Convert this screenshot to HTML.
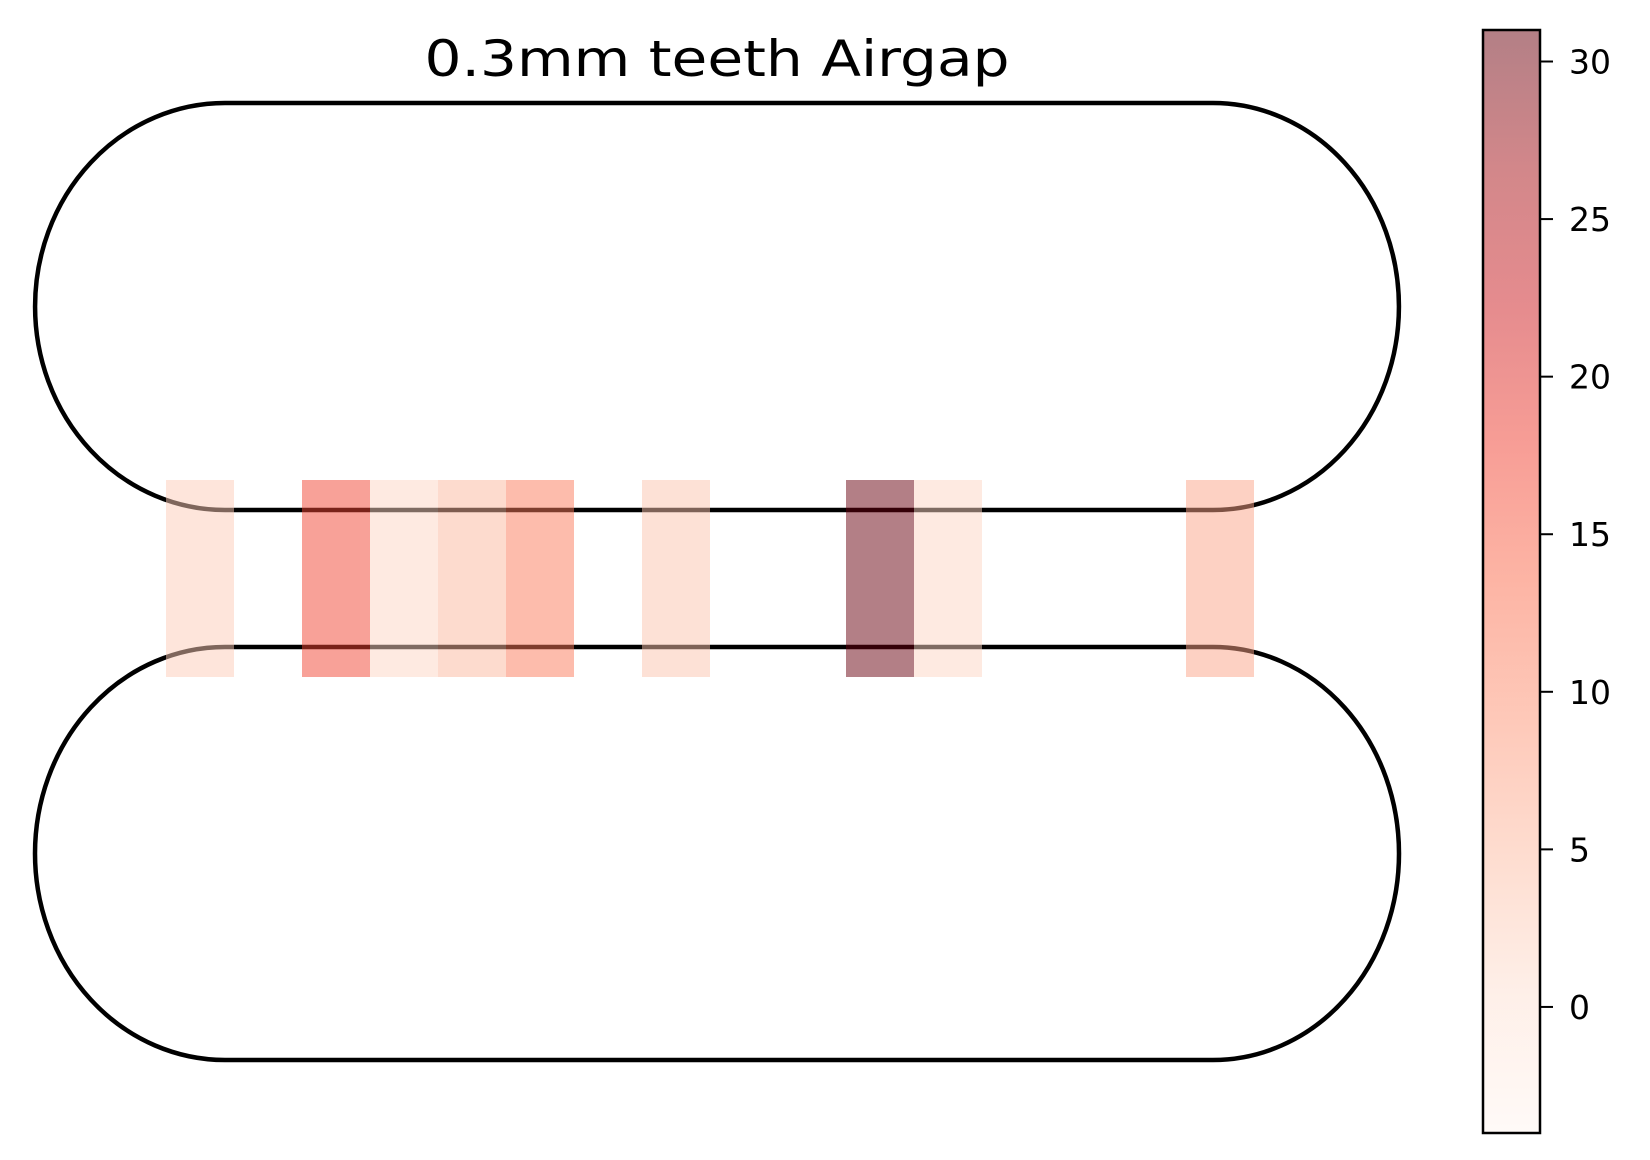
<!DOCTYPE html>
<html><head><meta charset="utf-8"><style>
html,body{margin:0;padding:0;background:#fff}
svg{display:block}
text{font-family:"DejaVu Sans","Liberation Sans",sans-serif}
</style></head><body>
<svg id="chart" width="1650" height="1160" viewBox="0 0 1650 1160" xmlns="http://www.w3.org/2000/svg">
<defs>
<linearGradient id="cbgrad" x1="0" y1="1" x2="0" y2="0">
<stop offset="0" stop-color="#fff5f0"/><stop offset="0.125" stop-color="#fee0d2"/><stop offset="0.25" stop-color="#fcbba1"/><stop offset="0.375" stop-color="#fc9272"/><stop offset="0.5" stop-color="#fb6a4a"/><stop offset="0.625" stop-color="#ef3b2c"/><stop offset="0.75" stop-color="#cb181d"/><stop offset="0.875" stop-color="#a50f15"/><stop offset="1" stop-color="#67000d"/>
</linearGradient>
</defs>
<text x="717" y="76" font-size="50" text-anchor="middle" textLength="585" lengthAdjust="spacingAndGlyphs">0.3mm teeth Airgap</text>
<g fill="none" stroke="#000">
<path stroke-width="4.5" d="M225,103 L1213,103 A186,203.5 0 0 1 1213,510 L225,510 A190,203.5 0 0 1 225,103 Z"/>
<path stroke-width="4.5" d="M225,647 L1213,647 A186,206.5 0 0 1 1213,1060 L225,1060 A190,206.5 0 0 1 225,647 Z"/>
</g>
<g id="cells"></g>
<g>
<rect x="1483" y="30" width="57" height="1103" fill="url(#cbgrad)" opacity="0.5"/>
<rect x="1483" y="30" width="57" height="1103" fill="none" stroke="#000" stroke-width="2.5"/>
<g id="cbticks"></g>
</g>
<script>
const columns=[0,2,3,4,5,7,10,11,15];
const values=[2.7,17,1.6,5.1,11.8,3.7,31,1.6,7.2];
const tickValues=[0,5,10,15,20,25,30];
const tickLabels=["0","5","10","15","20","25","30"];
const vmin=-4, vmax=31;
const stops=[[255,245,240],[254,224,210],[252,187,161],[252,146,114],[251,106,74],[239,59,44],[203,24,29],[165,15,21],[103,0,13]];
function reds(v){let t=Math.max(0,Math.min(1,(v-vmin)/(vmax-vmin)))*8;let i=Math.min(7,Math.floor(t)),f=t-i;const a=stops[i],b=stops[i+1];return 'rgb('+a.map((c,k)=>Math.round(c+(b[k]-c)*f)).join(',')+')';}
const xCol=k=>166+68*k, cellW=68, cellTop=480, cellH=197;
const yBar=v=>1133-(v-vmin)/(vmax-vmin)*1103;
const NS='http://www.w3.org/2000/svg';
const g=document.getElementById('cells');
columns.forEach((c,i)=>{const r=document.createElementNS(NS,'rect');


r.setAttribute('x',xCol(c));r.setAttribute('y',cellTop);r.setAttribute('width',cellW);r.setAttribute('height',cellH);r.setAttribute('fill',reds(values[i]));r.setAttribute('opacity','0.5');g.appendChild(r);});
const tg=document.getElementById('cbticks');
tickValues.forEach((v,i)=>{const y=yBar(v);const l=document.createElementNS(NS,'line');


l.setAttribute('x1',1540);l.setAttribute('x2',1553);l.setAttribute('y1',y);l.setAttribute('y2',y);l.setAttribute('stroke','#000');l.setAttribute('stroke-width','2');tg.appendChild(l);
const t=document.createElementNS(NS,'text');


t.setAttribute('x',1569);t.setAttribute('y',y+12);t.setAttribute('font-size','33');t.textContent=tickLabels[i];tg.appendChild(t);});
</script>
</svg>
</body></html>
